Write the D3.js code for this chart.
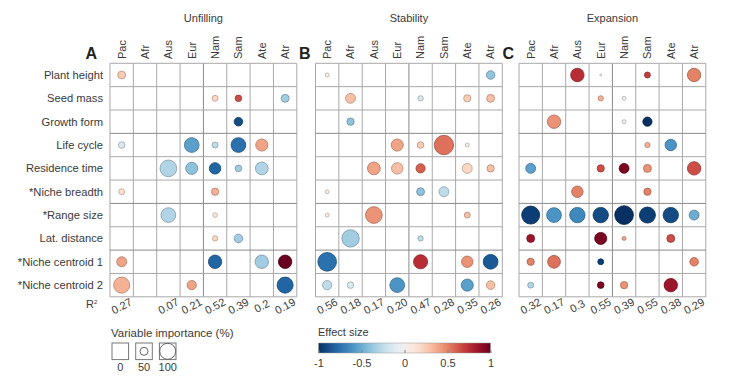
<!DOCTYPE html>
<html><head><meta charset="utf-8">
<script src="https://cdn.jsdelivr.net/npm/d3@7"></script>
<style>body{margin:0;background:#fff}svg{display:block;font-family:"Liberation Sans",Arial,sans-serif}</style>
</head><body><svg id="c" width="750" height="390"></svg>
<script>
const regions = ["Pac","Afr","Aus","Eur","Nam","Sam","Ate","Atr"];
const variables = ["Plant height","Seed mass","Growth form","Life cycle","Residence time","*Niche breadth","*Range size","Lat. distance","*Niche centroid 1","*Niche centroid 2"];
const panelTitles = ["Unfilling","Stability","Expansion"];
const panelLetters = ["A","B","C"];
const _ = null;
// variable importance (%) per cell
const unfillingImportance = [
 [36,_,_,_,_,_,_,_],
 [_,_,_,_,27,30,_,36],
 [_,_,_,_,_,39,_,_],
 [30,_,_,67,27,67,55,_],
 [_,_,76,55,52,30,58,_],
 [27,_,_,_,33,_,_,_],
 [_,_,67,_,21,_,_,_],
 [_,_,_,_,24,39,_,_],
 [45,_,_,_,61,_,61,61],
 [73,_,_,42,_,_,_,73]];
const unfillingEffect = [
 [0.25,_,_,_,_,_,_,_],
 [_,_,_,_,0.2,0.65,_,-0.35],
 [_,_,_,_,_,-0.9,_,_],
 [-0.15,_,_,-0.55,-0.25,-0.75,0.4,_],
 [_,_,-0.3,-0.4,-0.8,-0.35,-0.3,_],
 [0.15,_,_,_,0.35,_,_,_],
 [_,_,-0.3,_,0.1,_,_,_],
 [_,_,_,_,0.2,-0.35,_,_],
 [0.4,_,_,_,-0.8,_,-0.35,1.0],
 [0.35,_,_,0.4,_,_,_,-0.8]];
const stabilityImportance = [
 [18,_,_,_,_,_,_,39],
 [_,45,_,_,24,_,33,36],
 [_,33,_,_,_,_,_,_],
 [_,_,_,55,30,88,18,_],
 [_,_,58,52,42,_,45,33],
 [18,_,_,_,36,45,_,_],
 [18,_,76,_,_,_,27,_],
 [_,79,_,_,24,_,_,_],
 [85,_,_,_,64,_,52,67],
 [42,30,_,67,_,_,55,39]];
const stabilityEffect = [
 [0.05,_,_,_,_,_,_,-0.4],
 [_,0.3,_,_,-0.15,_,0.25,0.3],
 [_,-0.4,_,_,_,_,_,_],
 [_,_,_,0.4,0.25,0.55,0.05,_],
 [_,_,0.4,0.3,0.6,_,0.2,0.3],
 [0.05,_,_,_,-0.4,-0.25,_,_],
 [0.05,_,0.45,_,_,_,0.3,_],
 [_,-0.35,_,_,-0.25,_,_,_],
 [-0.75,_,_,_,0.75,_,0.45,-0.85],
 [-0.25,-0.15,_,-0.6,_,_,-0.55,0.3]];
const expansionImportance = [
 [_,_,61,9,_,27,_,61],
 [_,_,_,24,18,_,_,_],
 [_,61,_,_,18,42,_,_],
 [_,_,_,_,_,24,52,_],
 [45,_,_,33,45,36,_,61],
 [_,_,52,_,_,33,_,_],
 [82,67,70,70,85,73,70,45],
 [36,_,_,55,18,_,36,_],
 [33,58,_,27,_,_,_,39],
 [27,_,_,30,33,_,61,_]];
const expansionEffect = [
 [_,_,0.75,0.0,_,0.7,_,0.5],
 [_,_,_,0.35,0.0,_,_,_],
 [_,0.45,_,_,0.0,-1,_,_],
 [_,_,_,_,_,0.35,-0.6,_],
 [-0.55,_,_,0.65,0.95,0.45,_,0.65],
 [_,_,0.5,_,_,0.5,_,_],
 [-0.95,-0.6,-0.65,-0.9,-1.0,-0.95,-0.9,-0.5],
 [0.85,_,_,0.95,0.4,_,0.65,_],
 [0.5,0.55,_,-0.95,_,_,_,0.5],
 [-0.3,_,_,0.95,0.45,_,0.85,_]];
const unfillingR2 = ["0.27","","0.07","0.21","0.52","0.39","0.2","0.19"];
const stabilityR2 = ["0.56","0.18","0.17","0.20","0.47","0.28","0.35","0.26"];
const expansionR2 = ["0.32","0.17","0.3","0.55","0.39","0.55","0.38","0.29"];
const importanceLegend = [0,50,100];
const effectTicks = [-1,-0.5,0,0.5,1];

const panels = [
 {imp: unfillingImportance, eff: unfillingEffect, r2: unfillingR2, x0: 110},
 {imp: stabilityImportance, eff: stabilityEffect, r2: stabilityR2, x0: 315.5},
 {imp: expansionImportance, eff: expansionEffect, r2: expansionR2, x0: 519}
];
const cell = 23.35, gridTop = 63.3;
const textCol = "#3a3a3a", gridCol = "#a8a8a8";
const svg = d3.select("#c");
const color = v => d3.interpolateRdBu((1 - v) / 2);
const rScale = d3.scaleLinear().domain([0,100]).range([0,11]);

// row labels
const y = d3.scaleBand().domain(variables).range([gridTop, gridTop + cell*variables.length]);
svg.append("g").selectAll("text").data(variables).join("text")
  .attr("x", 103).attr("y", d => y(d) + y.bandwidth()/2).attr("dy","0.35em")
  .attr("text-anchor","end").attr("font-size",11.2).attr("fill",textCol).text(d => d);
svg.append("text").attr("x",86).attr("y",308).attr("font-size",11).attr("fill",textCol)
  .text("R").append("tspan").attr("dy",-4).attr("font-size",6).text("2");

panels.forEach((p, pi) => {
  const x = d3.scaleBand().domain(regions).range([p.x0, p.x0 + cell*regions.length]);
  const g = svg.append("g");
  g.append("text").attr("x", p.x0 + cell*4).attr("y", 22).attr("text-anchor","middle")
    .attr("font-size",11).attr("fill",textCol).text(panelTitles[pi]);
  g.append("text").attr("x", p.x0 - (pi === 0 ? 13 : 5)).attr("y", 59).attr("text-anchor","end")
    .attr("font-size",16).attr("font-weight","bold").attr("fill","#222").text(panelLetters[pi]);
  g.selectAll("text.col").data(regions).join("text").attr("class","col")
    .attr("transform", d => `translate(${x(d) + x.bandwidth()/2},59) rotate(-90)`)
    .attr("dy","0.35em").attr("font-size",11).attr("fill",textCol).text(d => d);
  const gx = d3.range(regions.length + 1).map(i => p.x0 + i*cell);
  const gy = d3.range(variables.length + 1).map(i => gridTop + i*cell);
  g.selectAll("line.v").data(gx).join("line").attr("class","v")
    .attr("x1", d => d).attr("x2", d => d).attr("y1", gridTop).attr("y2", gy[gy.length-1])
    .attr("stroke", (d,i) => i === 4 ? "#8a8a8a" : gridCol).attr("stroke-width",1);
  g.selectAll("line.h").data(gy).join("line").attr("class","h")
    .attr("y1", d => d).attr("y2", d => d).attr("x1", p.x0).attr("x2", gx[gx.length-1])
    .attr("stroke", (d,i) => (i === 3 || i === 6 || i === 8) ? "#8a8a8a" : gridCol).attr("stroke-width",1);
  const cells = [];
  p.imp.forEach((row, ri) => row.forEach((v, ci) => {
    if (v !== null) cells.push({row: variables[ri], col: regions[ci], imp: v, eff: p.eff[ri][ci]});
  }));
  g.selectAll("circle").data(cells).join("circle")
    .attr("cx", d => x(d.col) + x.bandwidth()/2).attr("cy", d => y(d.row) + y.bandwidth()/2)
    .attr("r", d => rScale(d.imp)).attr("fill", d => color(d.eff))
    .attr("stroke", d => d3.color(color(d.eff)).darker(0.9)).attr("stroke-width",0.8);
  g.selectAll("text.r2").data(regions).join("text").attr("class","r2")
    .attr("transform", d => `translate(${x(d) + x.bandwidth()/2},306) rotate(-28)`)
    .attr("dy","0.35em").attr("text-anchor","middle").attr("font-size",11).attr("fill",textCol)
    .text((d,i) => p.r2[i]);
});

// variable importance legend
svg.append("text").attr("x",111).attr("y",337).attr("font-size",11.5).attr("fill",textCol).text("Variable importance (%)");
const lx = d3.scaleBand().domain(importanceLegend).range([112,176]).paddingInner(0.3);
const lr = d3.scaleLinear().domain([0,100]).range([0,8]);
const lg = svg.append("g").selectAll("g").data(importanceLegend).join("g");
lg.append("rect").attr("x", d => lx(d)).attr("y",343).attr("width",lx.bandwidth()).attr("height",lx.bandwidth())
  .attr("fill","#fff").attr("stroke","#777").attr("stroke-width",1);
lg.append("circle").attr("cx", d => lx(d) + lx.bandwidth()/2).attr("cy", 343 + lx.bandwidth()/2)
  .attr("r", d => lr(d)).attr("fill","none").attr("stroke","#666").attr("stroke-width",1);
lg.append("text").attr("x", d => lx(d) + lx.bandwidth()/2).attr("y",371).attr("text-anchor","middle")
  .attr("font-size",11).attr("fill",textCol).text(d => d);

// effect size legend
const ex = d3.scaleLinear().domain([-1,1]).range([318.5,490.5]);
svg.append("text").attr("x",318).attr("y",336).attr("font-size",11).attr("fill",textCol).text("Effect size");
const defs = svg.append("defs");
const grad = defs.append("linearGradient").attr("id","eg");
d3.range(0,1.0001,0.05).forEach(t => grad.append("stop").attr("offset", t).attr("stop-color", color(-1 + 2*t)));
svg.append("rect").attr("x",ex(-1)).attr("y",343).attr("width",ex(1)-ex(-1)).attr("height",10)
  .attr("fill","url(#eg)").attr("stroke","#999").attr("stroke-width",0.5);
const ax = svg.append("g").attr("transform","translate(0,353)")
  .call(d3.axisBottom(ex).tickValues(effectTicks).tickSize(-3).tickPadding(6).tickFormat(d => String(d)));
ax.select(".domain").remove();
ax.selectAll(".tick line").attr("stroke","#888");
ax.selectAll("text").attr("font-size",11).attr("fill",textCol).attr("font-family","Liberation Sans, Arial, sans-serif");
</script></body></html>
